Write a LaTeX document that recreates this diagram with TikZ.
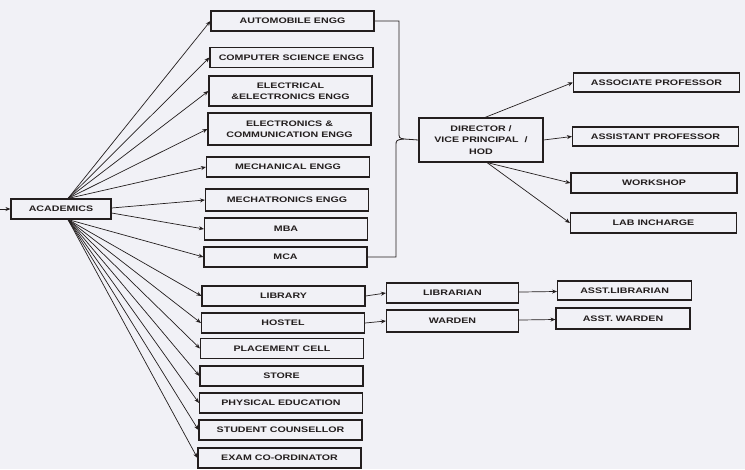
\documentclass[tikz,border=0pt]{standalone}
\usepackage{fontspec}
\newfontfamily\boxfamily{Liberation Sans}[FakeStretch=1.33]
\usepackage{tikz}
\usetikzlibrary{
	arrows.meta,positioning,calc
}
\definecolor{paper}{RGB}{241,241,246}
\definecolor{ink}{RGB}{35,30,30}
\newcommand{\boxfont}{\boxfamily\bfseries\fontsize{8}{11.5}\selectfont}
\tikzset{
	auto,
	unitbox/.style={
		rectangle, minimum width=163pt, minimum height=20pt, inner sep=1pt,
		line width=1.1pt, draw=ink, text=ink, font=\boxfont, align=center
	},
	%
	headbox/.style={
		unitbox, minimum width=100pt
	},
	%
	dirbox/.style={
		unitbox, minimum width=124pt, minimum height=44pt
	},
	%
	rolebox/.style={
		unitbox, minimum width=166pt, minimum height=19pt
	},
	%
	staffbox/.style={
		unitbox, minimum width=132pt
	},
	%
	link/.style={
		draw=ink, line width=0.7pt, -{Stealth[length=5pt,width=4pt]}
	},
	%
	bracket/.style={
		draw=ink, line width=0.8pt
	}
}

\begin{document}
\begin{tikzpicture}[x=1pt,y=-1pt]
    \useasboundingbox (0,0) rectangle (745,469);
    \fill[paper] (0,0) rectangle (745,469);
    \node(Acad)[headbox] at (61,209){ACADEMICS};
    \node(Auto)[unitbox] at (292.5,21){AUTOMOBILE ENGG};
    \node(CSE)[unitbox] at (291.5,57.5){COMPUTER SCIENCE ENGG};
    \node(EEE)[unitbox, minimum height=30pt] at (290.5,91){ELECTRICAL\\\&ELECTRONICS ENGG};
    \node(ECE)[unitbox, minimum height=32pt] at (289.5,129){ELECTRONICS \&\\COMMUNICATION ENGG};
    \node(Mech)[unitbox] at (288,167){MECHANICAL ENGG};
    \node(Mtr)[unitbox, minimum height=22pt] at (287,200){MECHATRONICS ENGG};
    \node(MBA)[unitbox, minimum height=22pt] at (286,229){MBA};
    \node(MCA)[unitbox] at (285.5,257){MCA};
    \node(Lib)[unitbox] at (283.5,296){LIBRARY};
    \node(Hos)[unitbox] at (283,323){HOSTEL};
    \node(Plc)[unitbox] at (282,348.5){PLACEMENT CELL};
    \node(Sto)[unitbox] at (281.5,376){STORE};
    \node(PE)[unitbox] at (281,403){PHYSICAL EDUCATION};
    \node(SC)[unitbox] at (280.5,430){STUDENT COUNSELLOR};
    \node(Exam)[unitbox] at (279.5,458){EXAM CO-ORDINATOR};
    \node(Dir)[dirbox] at (481,140){DIRECTOR /\\VICE PRINCIPAL~ /\\HOD};
    \node(AP)[rolebox] at (656.5,82.5){ASSOCIATE PROFESSOR};
    \node(AsP)[rolebox] at (655.5,136.5){ASSISTANT PROFESSOR};
    \node(WS)[rolebox, minimum height=20pt] at (654,183){WORKSHOP};
    \node(Lab)[rolebox, minimum height=20pt] at (653.5,223){LAB INCHARGE};
    \node(Libn)[staffbox] at (452.5,293){LIBRARIAN};
    \node(ALibn)[staffbox, minimum width=134pt, minimum height=19pt, right=38pt of Libn.east, anchor=west, yshift=2.5pt]{ASST.LIBRARIAN};
    \node(Wdn)[staffbox, minimum height=22pt] at (452.5,321){WARDEN};
    \node(AWdn)[staffbox, minimum width=134pt, minimum height=21pt] at (623,318.5){ASST. WARDEN};
    \coordinate(In) at (0,209);
    \coordinate(Up) at ([xshift=7pt]Acad.north);
    \coordinate(Down) at ([xshift=7pt]Acad.south);
    \coordinate(Tip) at (404,139);
    \draw[link] (In) -- (Acad);
    \foreach \t in {Auto,CSE,EEE,ECE,Mech}
        \draw[link] (Up) -- (\t.west);
    \draw[link] ([yshift=1pt]Acad.east) -- (Mtr.west);
    \draw[link] ([yshift=-4pt]Acad.east) -- (MBA.west);
    \foreach \t in {MCA,Lib,Hos,Plc,Sto,PE,SC,Exam}
        \draw[link] (Down) -- (\t.west);
    \draw[bracket] (Auto.east) -- (399,21) -- (399,132) .. controls (399,138) .. (Tip);
    \draw[bracket] (MCA.east) -- (396,257) -- (396,146) .. controls (396,140) .. (Tip);
    \draw[bracket] (Tip) -- (Dir.west);
    \draw[link] ([xshift=4pt]Dir.north) -- (AP.west);
    \draw[link] (Dir.east) -- (AsP.west);
    \draw[link] ([xshift=6pt]Dir.south) -- (WS.west);
    \draw[link] ([xshift=6pt]Dir.south) -- (Lab.west);
    \draw[link] (Lib.east) -- (Libn.west);
    \draw[link] (Hos.east) -- (Wdn.west);
    \draw[link] (Libn) -- (ALibn);
    \draw[link] (Wdn) -- (AWdn);
\end{tikzpicture}
\end{document}
